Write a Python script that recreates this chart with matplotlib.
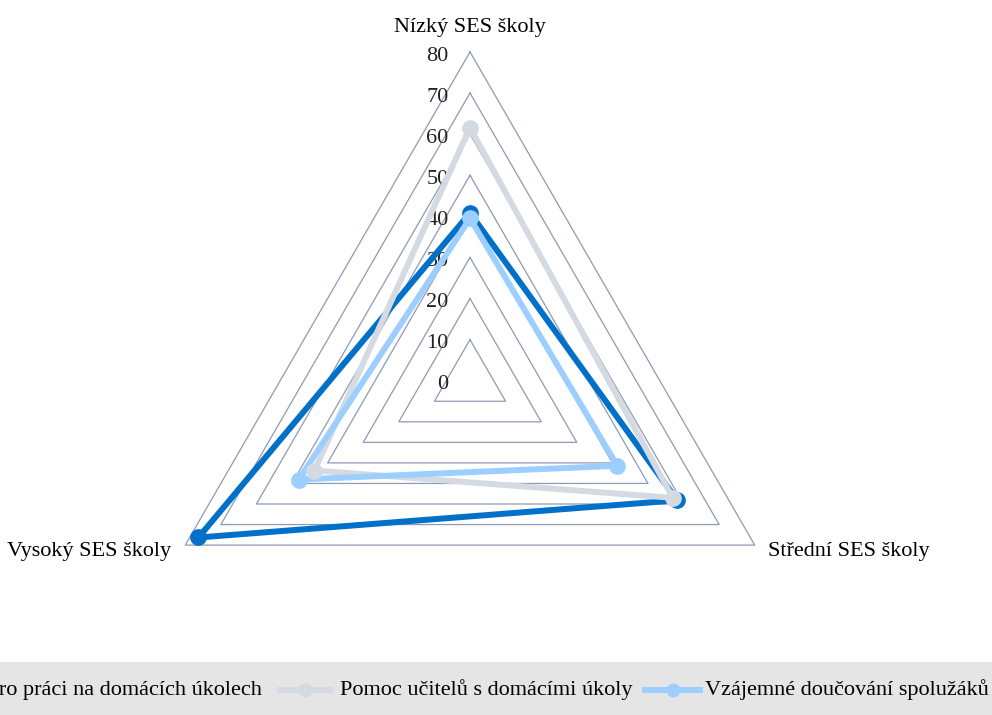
import matplotlib.pyplot as plt
from matplotlib.lines import Line2D
from matplotlib.patches import Rectangle
import numpy as np

plt.rcParams['font.family'] = ['Liberation Serif', 'DejaVu Serif']

# data
categories = ['Nízký SES školy', 'Střední SES školy', 'Vysoký SES školy']
series_names = ['Podmínky pro práci na domácích úkolech',
                'Pomoc učitelů s domácími úkoly',
                'Vzájemné doučování spolužáků']
podminky = [40.8, 58.2, 76.3]
pomoc = [61.6, 57.0, 43.7]
doucovani = [39.5, 41.4, 48.1]
ticks = [0, 10, 20, 30, 40, 50, 60, 70, 80]

colors = ['#0070c8', '#d5dae2', '#9ccfff']
grid_color = '#8e9ab4'

W, H = 992, 715
cx, cy = 470, 380.7          # centre in pixels (from top)
scale = 4.11                 # pixels per unit

fig = plt.figure(figsize=(W / 100, H / 100), dpi=100)
ax = fig.add_axes([0, 0, 1, 1])
ax.set_xlim(-cx / scale, (W - cx) / scale)
ax.set_ylim(-(H - cy) / scale, cy / scale)
ax.axis('off')

angles = np.deg2rad([90, -30, 210])


def to_xy(vals):
    v = np.asarray(vals, dtype=float)
    x = v * np.cos(angles)
    y = v * np.sin(angles)
    return np.append(x, x[0]), np.append(y, y[0])


# triangular grid
for t in ticks[1:]:
    gx, gy = to_xy([t, t, t])
    ax.plot(gx, gy, color=grid_color, lw=0.9, zorder=1)
for t in ticks:
    ax.text(-5.2, t - 1, str(t), ha='right', va='center', fontsize=16, color='#222222')

for vals, c in zip([podminky, pomoc, doucovani], colors):
    sx, sy = to_xy(vals)
    ax.plot(sx, sy, color=c, lw=4.3, zorder=3, solid_joinstyle='round')
    ax.plot(sx[:-1], sy[:-1], 'o', color=c, ms=11, zorder=4)

# category labels
ax.text(0, 86, categories[0], ha='center', va='center', fontsize=16)
ax.text(72.6, -41.6, categories[1], ha='left', va='center', fontsize=16)
ax.text(-72.6, -41.6, categories[2], ha='right', va='center', fontsize=16)

# legend band (wider than the picture, first entry runs off the left edge)
fig.patches.append(Rectangle((0, 0), 1, 53 / H, transform=fig.transFigure,
                             facecolor='#e5e5e5', edgecolor='none', zorder=0))
ly = 1 - 690 / H
fig.text(262 / W, ly, series_names[0], ha='right', va='center', fontsize=16)
for (x0, x1, tx), name, c in zip([(280, 330, 340), (645, 700, 705)],
                                 series_names[1:], colors[1:]):
    fig.lines.append(Line2D([x0 / W, x1 / W], [ly, ly], transform=fig.transFigure,
                            color=c, lw=4.3))
    fig.lines.append(Line2D([(x0 + x1) / 2 / W], [ly], transform=fig.transFigure,
                            marker='o', color=c, ms=9))
    fig.text(tx / W, ly, name, ha='left', va='center', fontsize=16)

fig.savefig('out.png', dpi=100)
